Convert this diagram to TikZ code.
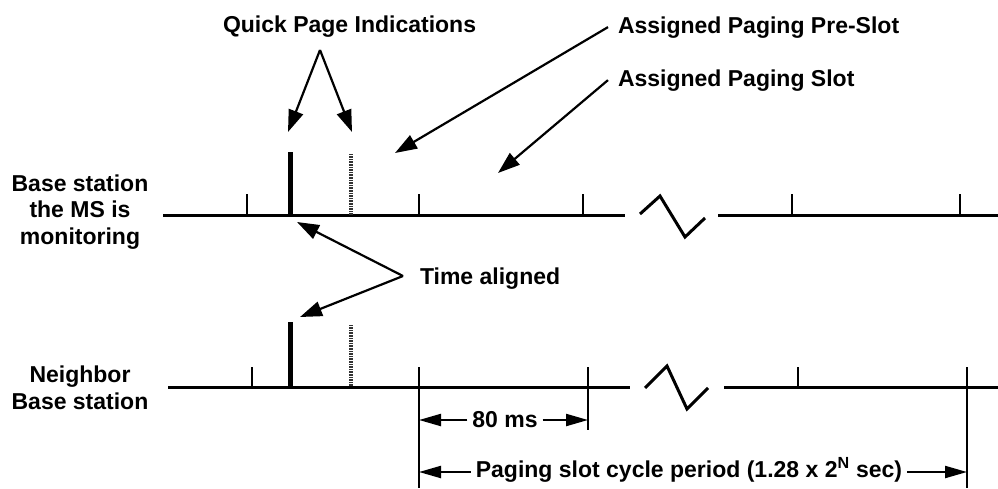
\documentclass[tikz,border=0pt]{standalone}
\usepackage{fontspec}
\setmainfont{Liberation Sans}
\usetikzlibrary{arrows.meta,positioning}
\tikzset{
  lbl/.style={font=\fontsize{23}{26.5}\selectfont\bfseries,inner sep=0pt,outer sep=5pt},
  axis/.style={line width=3pt,miter limit=4},
  tick/.style={line width=2pt},
  qpbar/.style={line width=5pt},
  qpdot/.style={line width=4pt,black!80,dash pattern=on 1.6pt off 1pt},
  ptr/.style={line width=2.2pt,-{Triangle[length=22pt,width=15pt]}},
  span/.style={line width=2.2pt,-{Triangle[length=22pt,width=12pt]}}
}

\begin{document}
\begin{tikzpicture}[x=1pt,y=-1pt]
\useasboundingbox (0,0) rectangle (998,488);

% labels
\node[lbl,align=center] (mon) at (80,212) {Base station\\the MS is\\monitoring};
\node[lbl,align=center] (nbr) at (80,388) {Neighbor\\Base station};
\node[lbl,anchor=base west] (qp) at (218,32) {Quick Page Indications};
\node[lbl,anchor=base west] (pre) at (613,33) {Assigned Paging Pre-Slot};
\node[lbl,anchor=base west] (slot) at (613,86) {Assigned Paging Slot};
\node[lbl,anchor=base west] (ta) at (415,284) {Time aligned};
\node[lbl] (ms) at (505,420) {80 ms};
\node[lbl] (per) at (689,470) {Paging slot cycle period (1.28 x 2\textsuperscript{N} sec)};

% monitored base station
\draw[axis] (163,215) -- (625,215);
\draw[axis] (718,215) -- (998,215);
\draw[axis] (640,214) -- (660,196) -- (685,237) -- (705,218);
\foreach \x in {247,419,583,792,960}
  \draw[tick] (\x,215) -- (\x,194);
\draw[qpbar] (290,215) -- (290,152);
\draw[qpdot] (351,215) -- (351,154);

% neighbor base station
\draw[axis] (168,387) -- (630,387);
\draw[axis] (724,387) -- (998,387);
\draw[axis] (645,388) -- (667,366) -- (687,409) -- (708,388);
\foreach \x in {252,798}
  \draw[tick] (\x,387) -- (\x,367);
\draw[qpbar] (290,386) -- (290,322);
\draw[qpdot] (351,386) -- (351,325);
\draw[tick] (419,367) -- (419,488);
\draw[tick] (588,367) -- (588,430);
\draw[tick] (967,367) -- (967,488);

% pointers
\coordinate (qtop) at (320,50);
\coordinate (qa) at (288,132);
\coordinate (qb) at (352,132);
\coordinate (pretip) at (395,153);
\coordinate (slottip) at (498,173);
\coordinate (tapex) at (403,276);
\coordinate (tatop) at (297,222);
\coordinate (tabot) at (300,317);
\draw[ptr] (qtop) -- (qa);
\draw[ptr] (qtop) -- (qb);
\draw[ptr] ([xshift=-5pt]pre.west) -- (pretip);
\draw[ptr] ([xshift=-5pt]slot.west) -- (slottip);
\draw[ptr] (tapex) -- (tatop);
\draw[ptr] (tapex) -- (tabot);

% spans
\coordinate (ms0) at (419,420);
\coordinate (ms1) at (588,420);
\coordinate (per0) at (419,472);
\coordinate (per1) at (967,472);
\draw[span] (ms.west) -- (ms0);
\draw[span] (ms.east) -- (ms1);
\draw[span] (per.west |- per0) -- (per0);
\draw[span] (per.east |- per1) -- (per1);
\end{tikzpicture}
\end{document}
